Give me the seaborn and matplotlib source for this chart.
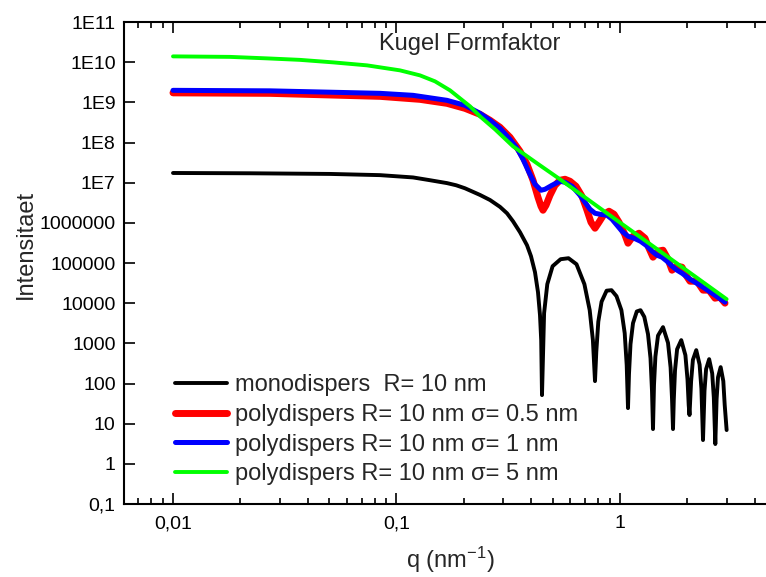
import numpy as np
import pandas as pd
import matplotlib
matplotlib.use('Agg')
import matplotlib.pyplot as plt
import matplotlib.ticker as mticker
import seaborn as sns

# monodispers R = 10 nm
q_mono = [0.0100, 0.02211, 0.05041, 0.08437, 0.11853, 0.1400, 0.16827, 0.1850, 0.20248, 0.23633, 0.26209, 0.29040,
          0.31221, 0.33203, 0.35694, 0.38362, 0.39975, 0.41657, 0.42962, 0.43857, 0.44403, 0.44770,
          0.45750, 0.47284, 0.49939, 0.54229, 0.58829, 0.63876, 0.69301, 0.73191, 0.75644, 0.77297,
          0.78339, 0.79971, 0.82718, 0.87128, 0.91622, 0.96463, 1.01459, 1.04966, 1.07152, 1.08601,
          1.09708, 1.11429, 1.14339, 1.18906, 1.23524, 1.28453, 1.33441, 1.36923, 1.39057, 1.40499,
          1.41953, 1.44018, 1.47926, 1.55747, 1.63983, 1.68434, 1.70883, 1.72656,
          1.74085, 1.76250, 1.80102, 1.87970, 1.96179, 2.00469, 2.02963, 2.04644,
          2.08047, 2.11939, 2.19381, 2.27085, 2.31343, 2.35188,
          2.38856, 2.42825, 2.50568, 2.58569, 2.62869, 2.66969,
          2.70571, 2.74497, 2.82091, 2.89896, 2.94104, 3.0]
i_mono = [1.742e7, 1.713e7, 1.650e7, 1.540e7, 1.350e7, 1.16e7, 9.75e6, 8.61e6, 7.25e6, 4.95e6, 3.70e6, 2.50e6,
          1.73e6, 1.096e6, 5.84e5, 2.77e5, 1.476e5, 5.90e4, 1.877e4, 5.03e3, 1.201e3, 51.4,
          5.64e3, 2.97e4, 8.32e4, 1.243e5, 1.316e5, 9.33e4, 2.97e4, 6.69e3, 1.201e3, 114.7,
          618, 3.46e3, 1.090e4, 2.046e4, 2.105e4, 1.493e4, 6.69e3, 1.793e3, 286.8, 24.4,
          171.3, 955, 3.18e3, 6.22e3, 6.69e3, 4.56e3, 1.693e3, 428, 64.7, 7.34,
          91.2, 469, 1.554e3, 2.53e3, 1.029e3, 250, 42.6, 7.34,
          40.0, 210.5, 713, 1.201e3, 506, 125.7, 29.0, 16.4,
          113.4, 388, 677, 295, 74.2, 3.91,
          66.2, 229, 404, 178.3, 45.3, 3.11,
          40.9, 142.6, 255.7, 114.7, 29.3, 6.93]

# polydispers sigma = 0.5 nm
q_s05 = [0.0100, 0.02716, 0.08437, 0.12740, 0.16827, 0.20248, 0.23633, 0.26209, 0.29040, 0.32199,
         0.35694, 0.38362, 0.40810, 0.42962, 0.44312, 0.45234, 0.46653, 0.48619, 0.51188, 0.53894,
         0.56748, 0.59749, 0.63551, 0.67605, 0.71174, 0.74169, 0.77297, 0.80528, 0.84815, 0.89298,
         0.94007, 0.98978, 1.04966, 1.08601, 1.14339, 1.21630, 1.29360, 1.34807, 1.40499, 1.47926,
         1.55747, 1.63983, 1.70883, 1.800, 1.89434, 1.97397, 2.05693, 2.21074, 2.35188, 2.50164,
         2.66121, 2.80264, 2.9498]
i_s05 = [1.723e9, 1.675e9, 1.410e9, 1.187e9, 9.44e8, 7.09e8, 5.03e8, 3.57e8, 2.39e8, 1.347e8,
         6.04e7, 2.87e7, 1.147e7, 4.33e6, 2.59e6, 2.06e6, 2.74e6, 4.86e6, 8.61e6, 1.147e7,
         1.215e7, 1.083e7, 8.14e6, 4.59e6, 2.06e6, 1.035e6, 7.34e5, 1.035e6, 1.636e6, 1.943e6,
         1.636e6, 1.035e6, 5.20e5, 3.11e5, 4.64e5, 5.51e5, 4.14e5, 2.33e5, 1.394e5, 1.966e5,
         2.08e5, 1.243e5, 6.62e4, 8.32e4, 7.86e4, 4.97e4, 3.52e4, 3.52e4, 2.11e4, 2.11e4,
         1.331e4, 1.410e4, 1.0e4]

# polydispers sigma = 1 nm
q_s1 = [0.0100, 0.02716, 0.08437, 0.11853, 0.16827, 0.20248, 0.23633, 0.26209, 0.29040, 0.32199,
        0.34604, 0.36812, 0.39150, 0.41657, 0.44312, 0.46185, 0.49631, 0.53894, 0.56748, 0.6101,
        0.66226, 0.69718, 0.73402, 0.77297, 0.81376, 0.87487, 0.92105, 0.96962, 1.02087, 1.08601,
        1.15523, 1.23524, 1.30701, 1.39057, 1.46408, 1.54150, 1.62300, 1.70883, 1.800, 1.89434,
        2.05693, 2.28030, 2.58034, 2.9498]
i_s1 = [1.989e9, 1.932e9, 1.675e9, 1.494e9, 1.121e9, 8.42e8, 5.32e8, 3.57e8, 2.26e8, 1.201e8,
        7.17e7, 3.82e7, 1.814e7, 9.12e6, 6.47e6, 6.85e6, 8.61e6, 1.083e7, 1.023e7, 8.14e6,
        4.86e6, 3.25e6, 2.18e6, 1.73e6, 1.636e6, 1.545e6, 1.229e6, 8.71e5, 6.18e5, 4.64e5,
        4.14e5, 3.48e5, 2.77e5, 1.966e5, 1.563e5, 1.394e5, 1.108e5, 8.32e4, 6.62e4, 5.57e4,
        3.95e4, 2.80e4, 1.773e4, 1.059e4]

# polydispers sigma = 5 nm
q_s5 = [0.0100, 0.01799, 0.02634, 0.03700, 0.05198, 0.07379, 0.10367, 0.12740, 0.14874, 0.17356,
        0.19236, 0.21328, 0.23633, 0.27593, 0.33203, 0.42522, 0.53894, 0.81376, 1.5100, 3.0]
i_s5 = [1.394e10, 1.354e10, 1.243e10, 1.141e10, 9.89e9, 8.33e9, 6.25e9, 4.69e9, 3.33e9, 1.989e9,
        1.258e9, 7.95e8, 4.48e8, 2.13e8, 8.04e7, 3.04e7, 1.215e7, 2.31e6, 1.966e5, 1.257e4]

labels = ['monodispers  R= 10 nm',
          'polydispers R= 10 nm σ= 0.5 nm',
          'polydispers R= 10 nm σ= 1 nm',
          'polydispers R= 10 nm σ= 5 nm']
colors = ['black', '#ff0000', '#0000ff', '#00ff00']
widths = [2.8, 5.0, 3.6, 2.8]

yticks = [0.1, 1, 10, 100, 1000, 1e4, 1e5, 1e6, 1e7, 1e8, 1e9, 1e10, 1e11]
ytick_labels = ['0,1', '1', '10', '100', '1000', '10000', '100000', '1000000',
                '1E7', '1E8', '1E9', '1E10', '1E11']
xticks = [0.01, 0.1, 1]
xtick_labels = ['0,01', '0,1', '1']

sns.set_style('ticks')
plt.rcParams['font.family'] = ['Liberation Sans', 'DejaVu Sans']
plt.rcParams['mathtext.default'] = 'regular'

fig = plt.figure(figsize=(7.66, 5.77), dpi=100)
ax = fig.add_axes([124/766, 73/577, 646/766, 482/577])

curves = [(q_mono, i_mono), (q_s05, i_s05), (q_s1, i_s1), (q_s5, i_s5)]
for (qq, ii), lab, c, w in zip(curves, labels, colors, widths):
    d = pd.DataFrame({'q': qq, 'I': ii})
    sns.lineplot(data=d, x='q', y='I', color=c, lw=w, label=lab, ax=ax,
                 estimator=None, sort=False)

ax.set_xscale('log')
ax.set_yscale('log')
ax.set_xlim(0.006036, 4.69)
ax.set_ylim(0.1, 1e11)

ax.yaxis.set_major_locator(mticker.FixedLocator(yticks))
ax.yaxis.set_major_formatter(mticker.FixedFormatter(ytick_labels))
ax.yaxis.set_minor_locator(mticker.NullLocator())
ax.xaxis.set_major_locator(mticker.FixedLocator(xticks))
ax.xaxis.set_major_formatter(mticker.FixedFormatter(xtick_labels))
ax.xaxis.set_minor_locator(mticker.LogLocator(base=10, subs=np.arange(2, 10)))
ax.xaxis.set_minor_formatter(mticker.NullFormatter())

ax.tick_params(which='both', direction='in', top=True, right=False, width=1.2, colors='black')
ax.tick_params(axis='x', which='major', length=8, pad=8, labelsize=14)
ax.tick_params(axis='x', which='minor', length=4)
ax.tick_params(axis='y', which='major', length=8, pad=6, labelsize=14)

for s in ['left', 'top', 'bottom']:
    ax.spines[s].set_linewidth(1.5)
    ax.spines[s].set_color('black')
ax.spines['right'].set_visible(False)

ax.set_xlabel('q (nm$^{-1}$)', fontsize=17)
ax.set_ylabel('Intensitaet', fontsize=17)
ax.xaxis.set_label_coords(0.505, -0.085)
ax.yaxis.set_label_coords(-0.135, 0.539)

fig.text(470/766, 1 - 44/577, 'Kugel Formfaktor', ha='center', va='center', fontsize=17)

ax.legend(loc='upper left', bbox_to_anchor=(175/766, 1 - 374/577), bbox_transform=fig.transFigure,
          frameon=False, fontsize=17, handlelength=2.2, handletextpad=0.35,
          labelspacing=0.33, borderpad=0, borderaxespad=0)

fig.savefig('out.png', dpi=100)
